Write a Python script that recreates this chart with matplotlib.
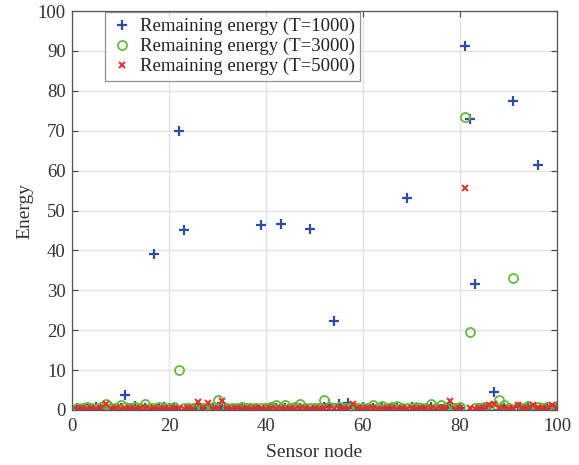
import matplotlib
matplotlib.use("Agg")
import matplotlib.pyplot as plt

plt.rcParams['font.family'] = ['Liberation Serif', 'DejaVu Serif']

nodes = list(range(1, 101))

t1000 = [0.5, 0.3, 0.6, 0.4, 0.7, 0.3, 0.5, 0.8, 0.4, 0.6,
         3.7, 0.5, 0.9, 0.4, 0.6, 0.3, 39.0, 0.5, 0.7, 0.4,
         0.6, 70.0, 45.2, 0.5, 0.3, 0.7, 0.4, 0.6, 0.5, 0.8,
         0.4, 0.6, 0.3, 0.5, 0.7, 0.4, 0.6, 0.5, 46.3, 0.4,
         0.7, 0.5, 46.5, 0.6, 0.3, 0.8, 0.5, 0.4, 45.3, 0.6,
         0.5, 0.7, 1.5, 22.3, 1.6, 0.4, 1.8, 0.6, 0.5, 0.7,
         0.4, 0.6, 0.5, 0.8, 0.3, 0.6, 0.5, 0.4, 53.2, 0.7,
         0.5, 0.6, 0.4, 0.8, 0.5, 0.3, 0.7, 0.6, 0.4, 0.5,
         91.2, 73.0, 31.6, 0.6, 0.5, 0.8, 4.4, 0.0, 0.6, 0.5,
         77.5, 0.7, 0.4, 0.9, 0.6, 61.3, 0.5, 0.8, 0.4, 0.6]

t3000 = [0.6, 0.4, 0.7, 0.5, 0.3, 0.8, 1.5, 0.6, 0.4, 1.2,
         0.7, 0.5, 0.8, 0.6, 1.6, 0.5, 0.4, 0.7, 0.6, 0.5,
         0.8, 10.0, 0.6, 0.5, 0.4, 0.7, 0.5, 0.6, 0.8, 2.5,
         0.9, 0.6, 0.4, 0.5, 0.7, 0.6, 0.5, 0.4, 0.6, 0.5,
         0.7, 1.3, 0.6, 1.3, 0.5, 0.7, 1.6, 0.6, 0.4, 0.5,
         0.6, 2.5, 0.7, 0.5, 0.8, 0.6, 0.5, 0.7, 0.4, 0.6,
         0.5, 1.3, 0.6, 1.0, 0.5, 0.7, 1.0, 0.4, 0.6, 0.5,
         0.7, 0.6, 0.5, 1.5, 0.6, 1.2, 0.5, 0.7, 0.6, 0.8,
         73.5, 19.5, 0.6, 0.5, 0.7, 0.8, 1.0, 2.5, 1.2, 0.6,
         33.0, 0.7, 0.5, 1.0, 0.6, 0.8, 0.5, 0.7, 0.6, 1.0]

t5000 = [0.3, 0.4, 0.2, 0.5, 0.3, 0.4, 1.4, 0.3, 0.5, 0.2,
         0.6, 0.4, 0.3, 0.5, 0.4, 0.3, 0.5, 0.2, 0.4, 0.3,
         0.5, 0.4, 0.3, 0.5, 0.3, 2.0, 0.4, 1.7, 0.3, 0.5,
         2.2, 0.4, 0.3, 0.5, 0.2, 0.4, 0.3, 0.5, 0.4, 0.3,
         0.5, 0.3, 0.4, 0.2, 0.5, 0.3, 0.4, 0.5, 0.3, 0.4,
         0.2, 0.5, 0.4, 0.3, 0.5, 0.4, 0.3, 1.5, 0.4, 0.3,
         0.5, 0.4, 0.2, 0.3, 0.5, 0.4, 0.3, 0.5, 0.2, 0.4,
         0.3, 0.5, 0.4, 0.6, 0.3, 0.5, 0.4, 2.3, 0.3, 0.5,
         55.7, 0.4, 0.3, 0.5, 0.6, 1.2, 1.5, 0.4, 0.5, 0.3,
         0.6, 1.3, 0.4, 0.5, 1.3, 0.4, 0.6, 0.5, 1.2, 0.4]

labels = ['Remaining energy (T=1000)', 'Remaining energy (T=3000)',
          'Remaining energy (T=5000)']
x_ticks = [0, 20, 40, 60, 80, 100]
y_ticks = [0, 10, 20, 30, 40, 50, 60, 70, 80, 90, 100]

fig = plt.figure(figsize=(5.79, 4.65), dpi=100)
ax = fig.add_axes([0.1244, 0.1183, 0.8376, 0.858])

ax.plot(nodes, t1000, linestyle='none', marker='+', color='#2e4ea6',
        markersize=7, markeredgewidth=1.6, label=labels[0])
ax.plot(nodes, t3000, linestyle='none', marker='o', markerfacecolor='none',
        markeredgecolor='#66bb3c', markersize=6.5, markeredgewidth=1.3,
        label=labels[1])
ax.plot(nodes, t5000, linestyle='none', marker='x', color='#ee2a2a',
        markersize=4.5, markeredgewidth=1.4, label=labels[2])

ax.set_xlim(0, 100)
ax.set_ylim(0, 100)
ax.set_xticks(x_ticks)
ax.set_yticks(y_ticks)
ax.grid(True, color='#e3e3e3', linewidth=1.0)
ax.set_axisbelow(True)
ax.tick_params(direction='in', top=True, right=True, length=4,
               labelsize=13.5, colors='#444444', labelcolor='#333333',
               width=0.8)
ax.tick_params(axis='x', pad=6)
ax.tick_params(axis='y', pad=4.5)
for s in ax.spines.values():
    s.set_color('#555555')
    s.set_linewidth(0.9)

ax.set_xlabel('Sensor node', fontsize=14, color='#333333', labelpad=6.5)
ax.set_ylabel('Energy', fontsize=14, color='#333333', labelpad=3)

leg = ax.legend(loc='upper left', bbox_to_anchor=(0.068, 0.997),
                fontsize=13.5, frameon=True, fancybox=False,
                edgecolor='#777777', borderpad=0.3, labelspacing=0.15,
                handletextpad=0.35, borderaxespad=0, handlelength=1.2)
leg.get_frame().set_linewidth(0.9)
for t in leg.get_texts():
    t.set_color('#222222')

fig.savefig('out.png', dpi=100)
